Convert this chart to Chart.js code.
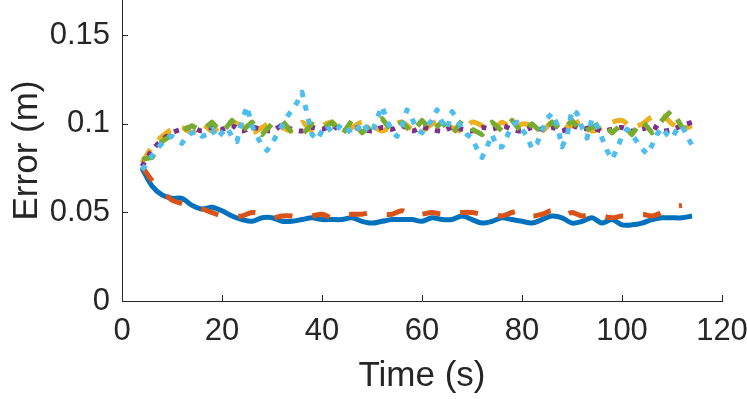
<!DOCTYPE html>
<html><head><meta charset="utf-8">
<script src="https://cdn.jsdelivr.net/npm/chart.js@4/dist/chart.umd.min.js"></script>
<style>html,body{margin:0;padding:0;background:#fff;overflow:hidden}canvas{display:block}</style>
</head><body>
<canvas id="c" width="747" height="399"></canvas>
<script>
const timeCoarse = [4,6,8,10,12,14,16,18,20,22,24,26,28,30,32,34,36,38,40,42,44,46,48,50,52,54,56,58,60,62,64,66,68,70,72,74,76,78,80,82,84,86,88,90,92,94,96,98,100,102,104,106,108,110,112,114];
const timeFine = [4,5,6,7,8,9,10,11,12,13,14,15,16,17,18,19,20,21,22,23,24,25,26,27,28,29,30,31,32,33,34,35,36,37,38,39,40,41,42,43,44,45,46,47,48,49,50,51,52,53,54,55,56,57,58,59,60,61,62,63,64,65,66,67,68,69,70,71,72,73,74,75,76,77,78,79,80,81,82,83,84,85,86,87,88,89,90,91,92,93,94,95,96,97,98,99,100,101,102,103,104,105,106,107,108,109,110,111,112,113,114];

const seriesBlue = [0.075,0.065,0.060,0.058,0.058,0.054,0.052,0.053,0.051,0.048,
0.046,0.045,0.047,0.047,0.045,0.045,0.046,0.047,0.046,0.046,
0.046,0.047,0.045,0.044,0.045,0.046,0.046,0.046,0.045,0.047,
0.046,0.046,0.048,0.046,0.044,0.045,0.047,0.046,0.045,0.044,
0.046,0.048,0.047,0.044,0.045,0.047,0.044,0.046,0.043,0.043,
0.044,0.046,0.047,0.047,0.047,0.048];

const seriesOrange = [0.076,0.068,0.062,0.057,0.055,0.053,0.052,0.050,0.048,0.048,
0.048,0.050,0.049,0.047,0.048,0.048,0.047,0.048,0.049,0.047,
0.048,0.049,0.049,0.050,0.049,0.049,0.051,0.048,0.049,0.050,
0.049,0.049,0.050,0.050,0.049,0.049,0.048,0.050,0.051,0.048,
0.049,0.051,0.048,0.050,0.048,0.049,0.048,0.047,0.048,0.048,
0.049,0.048,0.050,0.053,0.054,null];

const seriesYellow = [0.078,0.087,0.093,0.097,0.098,0.095,0.100,0.096,0.099,0.101,
0.099,0.095,0.098,0.101,0.098,0.096,0.101,0.096,0.099,0.101,
0.096,0.098,0.101,0.099,0.096,0.099,0.101,0.097,0.096,0.100,
0.102,0.098,0.096,0.101,0.099,0.096,0.101,0.097,0.100,0.099,
0.096,0.101,0.098,0.099,0.102,0.096,0.098,0.101,0.102,0.098,
0.100,0.104,0.105,0.100,0.097,0.099];

const seriesPurple = [0.076,0.085,0.091,0.095,0.097,0.098,0.096,0.098,0.097,0.099,
0.096,0.098,0.097,0.096,0.099,0.097,0.096,0.098,0.097,0.099,
0.096,0.098,0.097,0.096,0.098,0.097,0.099,0.096,0.098,0.097,
0.096,0.098,0.097,0.096,0.098,0.097,0.099,0.097,0.096,0.098,
0.097,0.098,0.096,0.099,0.097,0.098,0.096,0.097,0.098,0.096,
0.097,0.099,0.096,0.097,0.099,0.101];

const seriesGreen = [0.080,0.081,0.090,0.094,0.096,0.099,0.096,0.101,0.095,0.102,
0.096,0.101,0.094,0.100,0.102,0.095,0.094,0.100,0.097,0.101,
0.094,0.102,0.095,0.100,0.103,0.096,0.101,0.095,0.102,0.096,
0.101,0.094,0.102,0.097,0.094,0.101,0.096,0.102,0.095,0.100,
0.095,0.101,0.096,0.102,0.095,0.098,0.101,0.095,0.100,0.094,
0.102,0.095,0.102,0.108,0.098,0.097];

const seriesCyan = [0.074,0.078,0.082,0.086,0.089,0.092,0.093,0.091,0.089,0.093,
0.095,0.096,0.093,0.094,0.097,0.092,0.095,0.098,0.093,0.090,
0.102,0.110,0.099,0.093,0.088,0.085,0.089,0.094,0.099,0.104,
0.108,0.112,0.118,0.106,0.094,0.091,0.096,0.099,0.095,0.097,
0.100,0.098,0.094,0.097,0.101,0.097,0.095,0.103,0.110,0.102,
0.096,0.093,0.099,0.108,0.103,0.097,0.095,0.099,0.102,0.108,
0.101,0.097,0.107,0.103,0.097,0.094,0.092,0.086,0.081,0.087,
0.094,0.087,0.087,0.093,0.099,0.101,0.097,0.093,0.086,0.089,
0.096,0.103,0.106,0.100,0.087,0.093,0.108,0.106,0.098,0.092,
0.103,0.099,0.092,0.085,0.080,0.086,0.093,0.097,0.094,0.090,
0.086,0.083,0.088,0.094,0.098,0.094,0.092,0.097,0.099,0.093,
0.088];

const xTickValues = [0,20,40,60,80,100,120];
const yTickValues = [0,0.05,0.1,0.15];
const xLabel = 'Time (s)';
const yLabel = 'Error (m)';

function toXY(ts, vs){ return ts.map((t,i)=>({x:t,y:vs[i]})); }

const FONT = "'Liberation Sans', Arial, Helvetica, sans-serif";
const AX = '#262626';

const innerTicks = {
  id:'innerTicks',
  afterDraw(chart){
    const ctx = chart.ctx, xs = chart.scales.x, ys = chart.scales.y;
    const a = chart.chartArea;
    ctx.save();
    ctx.strokeStyle = AX; ctx.lineWidth = 1;
    ctx.beginPath();
    xs.ticks.forEach(t=>{ const p = Math.round(xs.getPixelForValue(t.value))+0.5; ctx.moveTo(p, a.bottom); ctx.lineTo(p, a.bottom-6); });
    ys.ticks.forEach(t=>{ const p = Math.round(ys.getPixelForValue(t.value))+0.5; ctx.moveTo(a.left, p); ctx.lineTo(a.left+6, p); });
    ctx.stroke();
    ctx.restore();
  }
};

function ds(data, color, dash, order, tension){
  return {data, borderColor:color, borderWidth:5, borderDash:dash, pointRadius:0, fill:false, order, tension, spanGaps:false, borderCapStyle:'butt', borderJoinStyle:'round'};
}

new Chart(document.getElementById('c'), {
  type:'line',
  data:{ datasets:[
    ds(toXY(timeCoarse, seriesBlue), '#0072BD', [], 6, 0.3),
    ds(toXY(timeCoarse, seriesOrange), '#D95319', [18,20], 5, 0.3),
    ds(toXY(timeCoarse, seriesYellow), '#EDB120', [16,12], 4, 0.3),
    ds(toXY(timeCoarse, seriesPurple), '#7E2F8E', [5,7], 3, 0.3),
    ds(toXY(timeCoarse, seriesGreen), '#77AC30', [14,13], 2, 0),
    ds(toXY(timeFine, seriesCyan), '#4DBEEE', [6,8], 1, 0)
  ]},
  options:{
    responsive:false, animation:false, devicePixelRatio:1,
    layout:{padding:{top:0,right:25,left:0,bottom:0}},
    plugins:{legend:{display:false}, tooltip:{enabled:false}},
    scales:{
      x:{type:'linear', min:0, max:120,
        afterBuildTicks(s){ s.ticks = xTickValues.map(v=>({value:v})); },
        ticks:{color:AX, font:{family:FONT, size:31}, padding:12, maxRotation:0, autoSkip:false},
        grid:{display:false, drawTicks:false},
        border:{display:true, color:AX, width:1},
        title:{display:true, text:xLabel, color:AX, font:{family:FONT, size:35}, padding:{top:0,bottom:2}},
        afterFit(s){ s.height = 98; s.paddingLeft = 0; s.paddingRight = 0; }
      },
      y:{type:'linear', min:0, max:0.17,
        afterBuildTicks(s){ s.ticks = yTickValues.map(v=>({value:v})); },
        ticks:{color:AX, font:{family:FONT, size:31}, padding:12, autoSkip:false, callback:v=>String(v)},
        grid:{display:false, drawTicks:false},
        border:{display:true, color:AX, width:1},
        title:{display:true, text:yLabel, color:AX, font:{family:FONT, size:35}, padding:{top:6,bottom:0}},
        afterFit(s){ s.width = 122; s.paddingTop = 0; s.paddingBottom = 0; }
      }
    }
  },
  plugins:[innerTicks]
});
</script>
</body></html>
